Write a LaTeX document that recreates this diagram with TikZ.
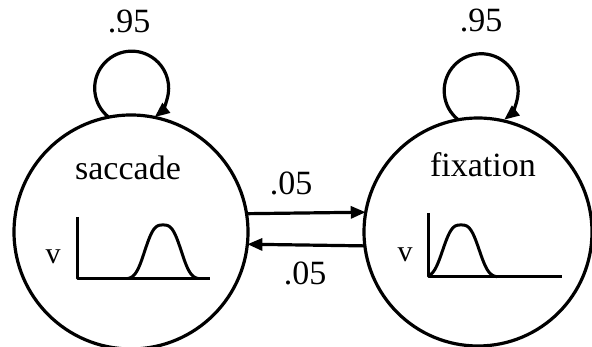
\documentclass[tikz,border=0pt]{standalone}
\usepackage{fontspec}
\setmainfont{Liberation Serif}
\usetikzlibrary{arrows.meta}
\begin{document}
\begin{tikzpicture}[x=1pt,y=1pt,
  state/.style={circle, draw, line width=3.2pt, inner sep=0pt, outer sep=0pt},
  lbl/.style={font=\fontsize{34}{40}\selectfont, inner sep=0pt, anchor=base},
  axlbl/.style={font=\fontsize{30}{36}\selectfont, inner sep=0pt, anchor=base},
  edge/.style={line width=3.2pt, -{Triangle[length=15pt,width=12pt]}},
  curve/.style={line width=3pt, line join=round}]
\useasboundingbox (0,0) rectangle (592,347);

% the two states
\node[state, minimum size=234pt] (sac) at (131,115) {};
\node[state, minimum size=228pt] (fix) at (478,115) {};

\node[lbl] (sacname) at (128,167) {saccade};
\node[lbl] (fixname) at (483,170) {fixation};

% self transitions
\draw[edge] (sac.101.8) arc[start angle=231.6, end angle=-51.6, radius=37];
\draw[edge] (fix.100.6) arc[start angle=231.6, end angle=-51.6, radius=37];
\node[lbl] (p1) at (129,314) {.95};
\node[lbl] (p2) at (481,315) {.95};

% transitions between the states
\draw[edge] (sac.9.35) -- (fix.170.4);
\draw[edge] (fix.187.05) -- (sac.-6.87);
\node[lbl] (p3) at (291,152) {.05};
\node[lbl] (p4) at (305,62) {.05};

% velocity profile: saccade
\coordinate (o1) at (77,68);
\draw[curve] (77,130) -- (o1) -- (210,68);
\draw[curve] plot[domain=128:198, samples=90, smooth] (\x, {68+54*exp(-(abs(\x-163)/21)^3)});
\node[axlbl] (v1) at (53,83) {v};

% velocity profile: fixation
\coordinate (o2) at (428,70);
\draw[curve] (428,134) -- (o2) -- (562,70);
\draw[curve] plot[domain=428:497, samples=90, smooth] (\x, {70+52*exp(-(abs(\x-461)/21)^3)});
\node[axlbl] (v2) at (405,85) {v};
\end{tikzpicture}
\end{document}
